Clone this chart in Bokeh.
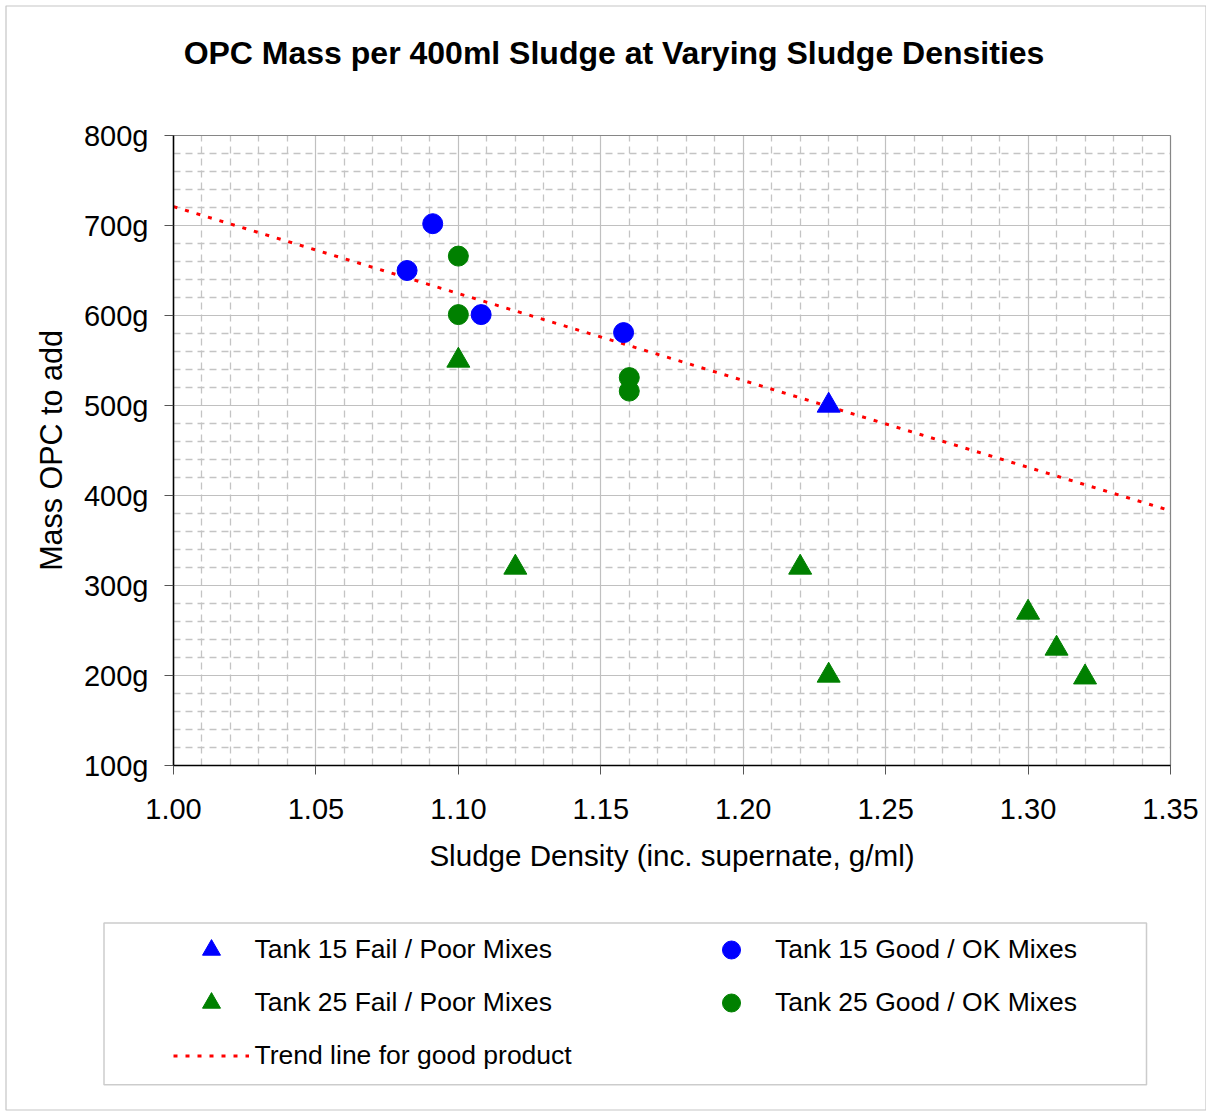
from bokeh.plotting import figure
from bokeh.models import (Legend, LegendItem, Label, FixedTicker, Grid,
                          PrintfTickFormatter, Range1d, BoxAnnotation)
from bokeh.embed import file_html
from bokeh.resources import INLINE

# ---------------- data ----------------
t15_fail_density = [1.23]
t15_fail_mass = [500]
t25_fail_density = [1.10, 1.12, 1.22, 1.23, 1.30, 1.31, 1.32]
t25_fail_mass = [550, 320, 320, 200, 270, 230, 198]
t15_good_density = [1.082, 1.091, 1.108, 1.158]
t15_good_mass = [650, 702, 601, 581]
t25_good_density = [1.10, 1.10, 1.16, 1.16]
t25_good_mass = [666, 601, 531, 516]
trend_density = [1.00, 1.35]
trend_mass = [721, 383]

x_ticks = [1.00, 1.05, 1.10, 1.15, 1.20, 1.25, 1.30, 1.35]
y_ticks = [100, 200, 300, 400, 500, 600, 700, 800]
x_minor = [round(1.00 + 0.01 * i, 2) for i in range(36) if i % 5]
y_minor = [100 + 20 * i for i in range(36) if i % 5]

labels = {
    "t15_fail": "Tank 15 Fail / Poor Mixes",
    "t25_fail": "Tank 25 Fail / Poor Mixes",
    "trend": "Trend line for good product",
    "t15_good": "Tank 15 Good / OK Mixes",
    "t25_good": "Tank 25 Good / OK Mixes",
}
title_text = "OPC Mass per 400ml Sludge at Varying Sludge Densities"
x_title = "Sludge Density (inc. supernate, g/ml)"
y_title = "Mass OPC to add"

# ---------------- layout (pixels of the picture) ----------------
FONT = "Liberation Sans"
W, H = 1206, 1112
X0, X1, Y0, Y1 = 1.00, 1.35, 100, 800
PL, PR, PT, PB = 173, 1170, 135, 765          # plot area in pixels
KX = (PR - PL) / (X1 - X0)
KY = (PB - PT) / (Y1 - Y0)


def dx(px):
    return X0 + (px - PL) / KX


def dy(py):
    return Y0 + (PB - py) / KY


p = figure(width=W, height=H,
           x_range=Range1d(dx(0), dx(W)), y_range=Range1d(dy(H), dy(0)),
           output_backend="svg", toolbar_location=None,
           min_border=0, min_border_left=0, min_border_right=0,
           min_border_top=0, min_border_bottom=0,
           background_fill_color="white", border_fill_color="white",
           outline_line_color=None)

# axes drawn at the edges of the plot area
p.xaxis.fixed_location = Y0
p.yaxis.fixed_location = X0
p.xaxis.bounds = (X0, X1)
p.yaxis.bounds = (Y0, Y1)
p.xaxis.ticker = FixedTicker(ticks=x_ticks, minor_ticks=x_minor)
p.yaxis.ticker = FixedTicker(ticks=y_ticks, minor_ticks=y_minor)
p.xaxis.formatter = PrintfTickFormatter(format="%.2f")
p.yaxis.formatter = PrintfTickFormatter(format="%dg")
for ax in (p.xaxis, p.yaxis):
    ax.axis_line_color = "black"
    ax.axis_line_width = 1.5
    ax.major_tick_line_color = "#555555"
    ax.major_tick_out = 9
    ax.major_tick_in = 0
    ax.minor_tick_line_color = None
    ax.major_label_text_font = FONT
    ax.major_label_text_font_size = "29px"
    ax.major_label_text_color = "black"
    ax.axis_label_text_font = FONT
    ax.axis_label_text_font_style = "normal"
    ax.axis_label_text_color = "black"
p.xaxis.axis_label_text_font_size = "29.6px"
p.yaxis.axis_label_text_font_size = "30.5px"
p.xaxis.axis_label = x_title
p.yaxis.axis_label = y_title
p.xaxis.major_label_standoff = 24
p.yaxis.major_label_standoff = 16
p.xaxis.axis_label_standoff = 17
p.yaxis.axis_label_standoff = 13

# grid limited to the plot area
GRID = "#c0c0c0"
if "cross_bounds" in Grid.properties():
    p.xgrid.cross_bounds = (Y0, Y1)
    p.ygrid.cross_bounds = (X0, X1)
    for g in (p.xgrid, p.ygrid):
        g.grid_line_color = GRID
        g.grid_line_width = 1.2
        g.minor_grid_line_color = "#c4c4c4"
        g.minor_grid_line_width = 1.3
        g.minor_grid_line_dash = "7 5"
else:
    p.xgrid.visible = False
    p.ygrid.visible = False
    p.segment(x0=x_minor, y0=Y0, x1=x_minor, y1=Y1, line_color="#c4c4c4",
              line_width=1.3, line_dash="7 5")
    p.segment(x0=X0, y0=y_minor, x1=X1, y1=y_minor, line_color="#c4c4c4",
              line_width=1.3, line_dash="7 5")
    p.segment(x0=x_ticks, y0=Y0, x1=x_ticks, y1=Y1, line_color=GRID,
              line_width=1.2)
    p.segment(x0=X0, y0=y_ticks, x1=X1, y1=y_ticks, line_color=GRID,
              line_width=1.2)

# plot-area border (top / right)
p.add_layout(BoxAnnotation(left=X0, right=X1, bottom=Y0, top=Y1,
                           fill_color=None, fill_alpha=0,
                           line_color="black", line_width=1.2))

# glyphs
r_trend = p.line(trend_density, trend_mass, line_color="#ff0000",
                 line_width=3, line_dash="4 8")
r15f = p.scatter(t15_fail_density, t15_fail_mass, marker="triangle",
                 size=23, fill_color="#0000ff", line_color="#0000ff")
r25f = p.scatter(t25_fail_density, t25_fail_mass, marker="triangle",
                 size=23, fill_color="#008000", line_color="#008000")
r15g = p.scatter(t15_good_density, t15_good_mass, marker="circle",
                 size=20, fill_color="#0000ff", line_color="#0000ff")
r25g = p.scatter(t25_good_density, t25_good_mass, marker="circle",
                 size=20, fill_color="#008000", line_color="#008000")

# title
p.add_layout(Label(x=dx(613.5), y=dy(52.5), text=title_text,
                   text_font=FONT, text_font_size="32px",
                   text_font_style="bold", text_align="center",
                   text_baseline="middle", text_color="black"))

# legend box and outer chart border
p.add_layout(BoxAnnotation(left=dx(103.5), right=dx(1146), top=dy(922.5),
                           bottom=dy(1084.3), fill_color=None, fill_alpha=0,
                           line_color="#555555", line_width=1.5))
p.add_layout(BoxAnnotation(left=dx(5.5), right=dx(1205.5), top=dy(5.5),
                           bottom=dy(1109.5), fill_color=None, fill_alpha=0,
                           line_color="#404040", line_width=1.2))


def make_legend(items, left_px, top_px, nrows):
    gh, sp = 45, 8
    height = nrows * gh + (nrows - 1) * sp
    return Legend(items=items,
                  location=(left_px, H - (top_px + height)),
                  orientation="vertical", padding=0, spacing=sp,
                  glyph_width=76, glyph_height=gh, label_standoff=6,
                  label_text_font=FONT, label_text_font_size="26.5px",
                  label_text_color="black",
                  border_line_alpha=0, background_fill_alpha=0,
                  margin=0)


legA = make_legend([LegendItem(label=labels["t15_fail"], renderers=[r15f]),
                    LegendItem(label=labels["t25_fail"], renderers=[r25f]),
                    LegendItem(label=labels["trend"], renderers=[r_trend])],
                   172.5, 927.3, 3)
legB = make_legend([LegendItem(label=labels["t15_good"], renderers=[r15g]),
                    LegendItem(label=labels["t25_good"], renderers=[r25g])],
                   693.0, 927.3, 2)
p.add_layout(legA)
p.add_layout(legB)

open("out.html", "w").write(file_html(p, INLINE))
